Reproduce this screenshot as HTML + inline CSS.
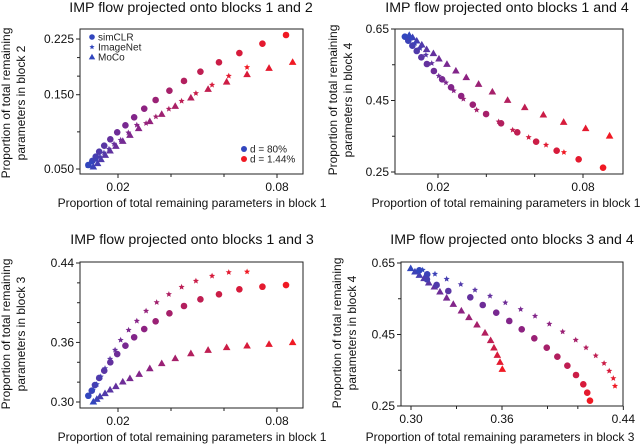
<!DOCTYPE html>
<html><head><meta charset="utf-8"><style>
body{margin:0;background:#fff;}
svg{display:block;font-family:"Liberation Sans",Arial,sans-serif;}
</style></head><body>
<svg id="fig" width="640" height="445" viewBox="0 0 640 445"></svg>
<script>
// ---- Panel 1: block1 vs block2 ----
const p1CircX=[0.0088,0.0103,0.0116,0.0129,0.0148,0.0171,0.0197,0.0228,0.0261,0.0299,0.0342,0.0394,0.0449,0.0511,0.0581,0.0658,0.0745,0.0834];
const p1CircY=[0.0554,0.0608,0.0666,0.0733,0.0814,0.0900,0.0994,0.1088,0.1196,0.1312,0.1429,0.1554,0.1685,0.1810,0.1936,0.2061,0.2187,0.2304];
const p1StarX=[0.0101,0.0117,0.0132,0.0147,0.0166,0.0185,0.0210,0.0239,0.0271,0.0306,0.0343,0.0392,0.0440,0.0494,0.0555,0.0618,0.0687];
const p1StarY=[0.0585,0.0621,0.0666,0.0719,0.0769,0.0837,0.0890,0.0989,0.1092,0.1115,0.1204,0.1308,0.1415,0.1519,0.1631,0.1752,0.1869];
const p1TriX=[0.0092,0.0107,0.0123,0.0136,0.0152,0.0170,0.0192,0.0218,0.0245,0.0278,0.0320,0.0365,0.0416,0.0475,0.0540,0.0610,0.0687,0.0770,0.0859];
const p1TriY=[0.0554,0.0531,0.0577,0.0631,0.0688,0.0747,0.0810,0.0877,0.0958,0.1048,0.1142,0.1240,0.1348,0.1460,0.1577,0.1675,0.1775,0.1860,0.1940];
// ---- Panel 2: block1 vs block4 ----
const p2CircX=[0.0063,0.0077,0.0094,0.0112,0.0131,0.0154,0.0183,0.0217,0.0254,0.0296,0.0344,0.0399,0.0461,0.0528,0.0606,0.0691,0.0782,0.0883];
const p2CircY=[0.6285,0.6173,0.6033,0.5885,0.5708,0.5521,0.5325,0.5093,0.4869,0.4626,0.4383,0.4122,0.3862,0.3610,0.3348,0.3096,0.2855,0.2621];
const p2StarX=[0.0087,0.0105,0.0126,0.0150,0.0174,0.0203,0.0233,0.0265,0.0305,0.0360,0.0451,0.0509,0.0575,0.0647,0.0721];
const p2StarY=[0.6240,0.6100,0.5960,0.5773,0.5541,0.5186,0.4998,0.4774,0.4542,0.4234,0.3907,0.3675,0.3471,0.3255,0.3051];
const p2TriX=[0.0081,0.0095,0.0112,0.0133,0.0153,0.0181,0.0204,0.0237,0.0274,0.0317,0.0368,0.0425,0.0488,0.0559,0.0636,0.0720,0.0811,0.0910];
const p2TriY=[0.6332,0.6268,0.6173,0.6061,0.5932,0.5820,0.5669,0.5521,0.5334,0.5149,0.4962,0.4746,0.4514,0.4310,0.4103,0.3899,0.3722,0.3515];
// ---- Panel 3: block1 vs block3 ----
const p3CircX=[0.0088,0.0101,0.0113,0.0129,0.0148,0.0171,0.0197,0.0228,0.0261,0.0299,0.0342,0.0394,0.0449,0.0511,0.0581,0.0658,0.0745,0.0834];
const p3CircY=[0.3063,0.3114,0.3171,0.3242,0.3315,0.3400,0.3483,0.3567,0.3652,0.3735,0.3813,0.3893,0.3967,0.4034,0.4085,0.4135,0.4161,0.4178];
const p3StarX=[0.0105,0.0120,0.0135,0.0151,0.0170,0.0189,0.0210,0.0240,0.0271,0.0306,0.0346,0.0392,0.0440,0.0494,0.0555,0.0618,0.0687];
const p3StarY=[0.3121,0.3178,0.3255,0.3339,0.3433,0.3524,0.3624,0.3725,0.3816,0.3917,0.4004,0.4085,0.4158,0.4219,0.4269,0.4306,0.4312];
const p3TriX=[0.0107,0.0120,0.0132,0.0151,0.0170,0.0192,0.0218,0.0245,0.0280,0.0320,0.0365,0.0416,0.0475,0.0540,0.0610,0.0687,0.0770,0.0859];
const p3TriY=[0.3003,0.3030,0.3057,0.3088,0.3124,0.3158,0.3205,0.3239,0.3282,0.3339,0.3390,0.3440,0.3490,0.3524,0.3551,0.3567,0.3584,0.3601];
// ---- Panel 4: block3 vs block4 ----
const p4CircX=[0.3055,0.3107,0.3105,0.3169,0.3246,0.3391,0.3473,0.3562,0.3648,0.3730,0.3813,0.3895,0.3965,0.4031,0.4088,0.4136,0.4162,0.4180];
const p4CircY=[0.6296,0.6184,0.6044,0.5885,0.5717,0.5540,0.5325,0.5110,0.4878,0.4645,0.4394,0.4131,0.3879,0.3627,0.3367,0.3107,0.2872,0.2648];
const p4StarX=[0.3077,0.3158,0.3235,0.3328,0.3422,0.3521,0.3622,0.3723,0.3818,0.3912,0.4000,0.4086,0.4154,0.4218,0.4273,0.4307,0.4334,0.4345];
const p4StarY=[0.6304,0.6192,0.6052,0.5903,0.5745,0.5577,0.5390,0.5205,0.5017,0.4794,0.4578,0.4346,0.4131,0.3907,0.3694,0.3479,0.3274,0.3059];
const p4TriX=[0.2998,0.3026,0.3055,0.3086,0.3117,0.3154,0.3191,0.3235,0.3279,0.3332,0.3382,0.3435,0.3488,0.3525,0.3547,0.3569,0.3587,0.3602];
const p4TriY=[0.6352,0.6257,0.6164,0.6072,0.5949,0.5837,0.5697,0.5529,0.5353,0.5166,0.4981,0.4774,0.4550,0.4338,0.4131,0.3927,0.3731,0.3535];
// ---- ticks ----
const xTickLabels123=["0.02","0.08"];
const xTickMinor123=[0.04,0.06];
const p1YTickLabels=["0.050","0.150","0.225"];
const p1YMinor=[0.1,0.175,0.2];
const p2YTickLabels=["0.25","0.45","0.65"];
const p2YMinor=[0.35,0.55];
const p3YTickLabels=["0.30","0.36","0.44"];
const p3YMinor=[0.32,0.34,0.38,0.40,0.42];
const p4XTickLabels=["0.30","0.36","0.44"];
const p4XMinor=[0.33,0.39,0.41];
const p4YTickLabels=["0.25","0.45","0.65"];
const p4YMinor=[0.35,0.55];

const NS="http://www.w3.org/2000/svg";
const svg=document.getElementById('fig');
function mk(tag,attrs,parent){const e=document.createElementNS(NS,tag);for(const k in attrs)e.setAttribute(k,attrs[k]);(parent||svg).appendChild(e);return e;}
function lerp(a,b,t){return Math.round(a+(b-a)*t);}
function col(t){const b=[50,70,190],m=[135,35,135],r=[240,25,35];
  if(t<0.5){const u=t/0.5;return `rgb(${lerp(b[0],m[0],u)},${lerp(b[1],m[1],u)},${lerp(b[2],m[2],u)})`;}
  const u=(t-0.5)/0.5;return `rgb(${lerp(m[0],r[0],u)},${lerp(m[1],r[1],u)},${lerp(m[2],r[2],u)})`;}
function starPts(cx,cy,R){let p=[];for(let i=0;i<10;i++){const rr=i%2?R*0.45:R;const a=-Math.PI/2+i*Math.PI/5;p.push((cx+rr*Math.cos(a)).toFixed(1)+','+(cy+rr*Math.sin(a)).toFixed(1));}return p.join(' ');}
function marker(g,kind,x,y,c,s){
  let e;
  if(kind==='circle'){e=mk('circle',{cx:x,cy:y,r:3.3*(s||1),fill:c},g);}
  else if(kind==='star'){e=mk('polygon',{points:starPts(x,y,3.2*(s||1)),fill:c},g);}
  else {const h=3.8*(s||1);e=mk('polygon',{points:`${x},${y-h} ${x-h},${y+h*0.75} ${x+h},${y+h*0.75}`,fill:c},g);}
  return e;
}
function panel(cfg){
  const g=mk('g',{});
  
  
  const sx=v=>cfg.px0+(v-cfg.x0)*(cfg.px1-cfg.px0)/(cfg.x1-cfg.x0);
  const sy=v=>cfg.py0+(v-cfg.y0)*(cfg.py1-cfg.py0)/(cfg.y1-cfg.y0);
  const t=mk('text',{x:cfg.tx,y:cfg.ty,'text-anchor':'middle','font-size':14.2,fill:'#111'},g);t.textContent=cfg.title;
  
  
  const fr=mk('rect',{x:cfg.L,y:cfg.T,width:cfg.R-cfg.L,height:cfg.B-cfg.T,fill:'none',stroke:'#222','stroke-width':1},g);
  
  
  cfg.xLab.forEach(s=>{const v=parseFloat(s),x=sx(v);mk('line',{x1:x,x2:x,y1:cfg.B,y2:cfg.B+4,stroke:'#222'},g);
    const e=mk('text',{x:x,y:cfg.B+17,'text-anchor':'middle','font-size':12,fill:'#111'},g);e.textContent=s;
    
    });
  cfg.xMin.forEach(v=>{const x=sx(v);mk('line',{x1:x,x2:x,y1:cfg.B,y2:cfg.B+3,stroke:'#222'},g);});
  cfg.yLab.forEach(s=>{const v=parseFloat(s),y=sy(v);mk('line',{x1:cfg.L-4,x2:cfg.L,y1:y,y2:y,stroke:'#222'},g);
    const e=mk('text',{x:cfg.L-6,y:y+4,'text-anchor':'end','font-size':12,fill:'#111'},g);e.textContent=s;
    
    });
  cfg.yMin.forEach(v=>{const y=sy(v);mk('line',{x1:cfg.L-3,x2:cfg.L,y1:y,y2:y,stroke:'#222'},g);});
  const xl=mk('text',{x:cfg.xlx,y:cfg.xly,'text-anchor':'middle','font-size':12,fill:'#111'},g);xl.textContent=cfg.xTitle;
  
  
  const yl=mk('text',{transform:`translate(${cfg.ylx},${cfg.yly}) rotate(-90)`,'text-anchor':'middle','font-size':12,fill:'#111'},g);
  
  
  const a=mk('tspan',{x:0,dy:0},yl);a.textContent='Proportion of total remaining';
  const b=mk('tspan',{x:0,dy:15},yl);b.textContent=cfg.yTitle2;
  const series=[['triangle',cfg.triX,cfg.triY,'moco-point'],['circle',cfg.circX,cfg.circY,'simclr-point'],['star',cfg.starX,cfg.starY,'imagenet-point']];
  series.forEach(([k,X,Y,nm])=>{X.forEach((xv,i)=>{const e=marker(g,k,sx(xv),sy(Y[i]),col(X.length>1?i/(X.length-1):0));
    
    });});
  return g;
}
panel({name:'panel-blocks-1-2',title:'IMP flow projected onto blocks 1 and 2',tx:191,ty:12,L:80,R:303,T:29,B:174,
  x0:0.02,x1:0.08,px0:118,px1:277,y0:0.05,y1:0.225,py0:169,py1:39,
  xLab:xTickLabels123,xMin:xTickMinor123,yLab:p1YTickLabels,yMin:p1YMinor,
  xTitle:'Proportion of total remaining parameters in block 1',xlx:192,xly:207,ylx:10,yly:103,yTitle2:'parameters in block 2',
  circX:p1CircX,circY:p1CircY,starX:p1StarX,starY:p1StarY,triX:p1TriX,triY:p1TriY});
panel({name:'panel-blocks-1-4',title:'IMP flow projected onto blocks 1 and 4',tx:507,ty:12,L:395,R:623,T:29,B:174,
  x0:0.02,x1:0.08,px0:438,px1:583,y0:0.25,y1:0.65,py0:172,py1:29,
  xLab:xTickLabels123,xMin:xTickMinor123,yLab:p2YTickLabels,yMin:p2YMinor,
  xTitle:'Proportion of total remaining parameters in block 1',xlx:506,xly:207,ylx:337,yly:100,yTitle2:'parameters in block 4',
  circX:p2CircX,circY:p2CircY,starX:p2StarX,starY:p2StarY,triX:p2TriX,triY:p2TriY});
panel({name:'panel-blocks-1-3',title:'IMP flow projected onto blocks 1 and 3',tx:192,ty:244,L:80,R:303,T:262,B:408,
  x0:0.02,x1:0.08,px0:118,px1:277,y0:0.30,y1:0.44,py0:402,py1:263,
  xLab:xTickLabels123,xMin:xTickMinor123,yLab:p3YTickLabels,yMin:p3YMinor,
  xTitle:'Proportion of total remaining parameters in block 1',xlx:192,xly:441,ylx:10,yly:334,yTitle2:'parameters in block 3',
  circX:p3CircX,circY:p3CircY,starX:p3StarX,starY:p3StarY,triX:p3TriX,triY:p3TriY});
panel({name:'panel-blocks-3-4',title:'IMP flow projected onto blocks 3 and 4',tx:512,ty:244,L:401,R:623,T:262,B:406,
  x0:0.30,x1:0.36,px0:411,px1:502,y0:0.25,y1:0.65,py0:406,py1:263,
  xLab:p4XTickLabels,xMin:p4XMinor,yLab:p4YTickLabels,yMin:p4YMinor,
  xTitle:'Proportion of total remaining parameters in block 3',xlx:500,xly:441,ylx:341,yly:333,yTitle2:'parameters in block 4',
  circX:p4CircX,circY:p4CircY,starX:p4StarX,starY:p4StarY,triX:p4TriX,triY:p4TriY});

// legends (panel 1)
const blue='rgb(50,70,190)',red='rgb(240,25,35)';
const legendNames=['simCLR','ImageNet','MoCo'];
const legendKinds=['circle','star','triangle'];
legendNames.forEach((n,i)=>{const y=37+i*10;
  const g=mk('g',{});
  
  
  marker(g,legendKinds[i],92,y,blue,0.85);
  const t=mk('text',{x:98,y:y+3.5,'font-size':10,fill:'#222'},g);t.textContent=n;});
const dNames=['d = 80%','d = 1.44%'];
const dCols=[blue,red];
dNames.forEach((n,i)=>{const y=149+i*10;
  const g=mk('g',{});
  
  
  mk('circle',{cx:244,cy:y,r:3,fill:dCols[i]},g);
  const t=mk('text',{x:250,y:y+3.5,'font-size':10,fill:'#222'},g);t.textContent=n;});
</script>
</body></html>
